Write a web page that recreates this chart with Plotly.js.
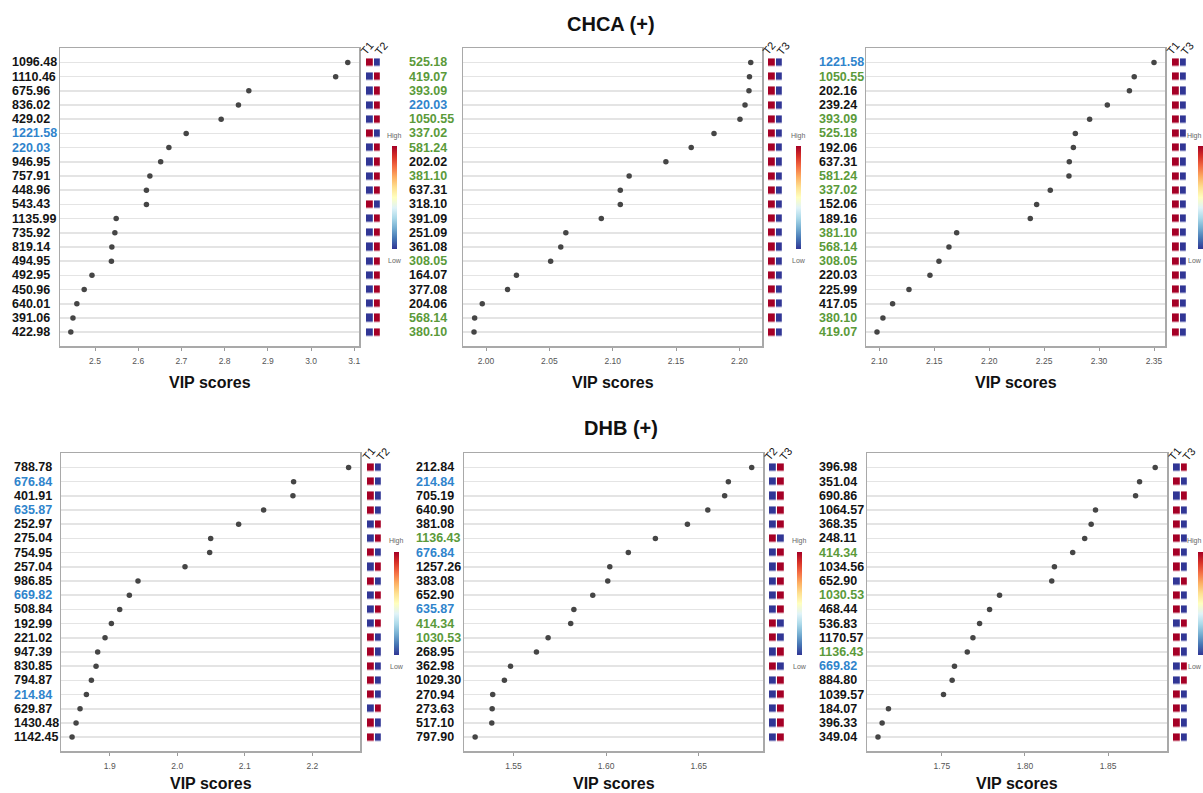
<!DOCTYPE html>
<html>
<head>
<meta charset="utf-8">
<script src="https://cdn.plot.ly/plotly-3.0.1.min.js"></script>
<style>html,body{margin:0;padding:0;background:#fff;}#chart{width:1203px;height:793px;}</style>
</head>
<body>
<div id="chart"></div>
<script>
// ---------- DATA ----------
const groupTitles = ['CHCA (+)', 'DHB (+)'];
const axisTitle = 'VIP scores';

// Panel 1: CHCA (+), T1 vs T2
const p1Labels = ['1096.48','1110.46','675.96','836.02','429.02','1221.58','220.03','946.95','757.91','448.96','543.43','1135.99','735.92','819.14','494.95','492.95','450.96','640.01','391.06','422.98'];
const p1Vip = [3.085,3.057,2.856,2.832,2.792,2.711,2.671,2.652,2.627,2.619,2.619,2.549,2.546,2.539,2.538,2.493,2.475,2.458,2.449,2.444];
const p1Tone = ['k','k','k','k','k','b','b','k','k','k','k','k','k','k','k','k','k','k','k','k'];
const p1Cols = ['T1','T2'];
const p1ColA = [1,0,0,0,0,1,0,0,0,0,1,0,0,0,0,0,0,0,0,0];
const p1ColB = [0,1,1,1,1,0,1,1,1,1,0,1,1,1,1,1,1,1,1,1];

// Panel 2: CHCA (+), T2 vs T3
const p2Labels = ['525.18','419.07','393.09','220.03','1050.55','337.02','581.24','202.02','381.10','637.31','318.10','391.09','251.09','361.08','308.05','164.07','377.08','204.06','568.14','380.10'];
const p2Vip = [2.209,2.208,2.2076,2.2045,2.2005,2.180,2.162,2.142,2.113,2.106,2.106,2.091,2.063,2.059,2.051,2.024,2.017,1.997,1.991,1.9905];
const p2Tone = ['g','g','g','b','g','g','g','k','g','k','k','k','k','k','g','k','k','k','g','g'];
const p2Cols = ['T2','T3'];
const p2ColA = [1,1,1,1,1,1,1,1,1,1,1,1,1,1,1,1,1,1,1,1];
const p2ColB = [0,0,0,0,0,0,0,0,0,0,0,0,0,0,0,0,0,0,0,0];

// Panel 3: CHCA (+), T1 vs T3
const p3Labels = ['1221.58','1050.55','202.16','239.24','393.09','525.18','192.06','637.31','581.24','337.02','152.06','189.16','381.10','568.14','308.05','220.03','225.99','417.05','380.10','419.07'];
const p3Vip = [2.350,2.332,2.3276,2.3075,2.2914,2.2784,2.2766,2.2729,2.2726,2.2556,2.2432,2.2374,2.1704,2.1634,2.1543,2.1461,2.127,2.1121,2.1033,2.0979];
const p3Tone = ['b','g','k','k','g','g','k','k','g','g','k','k','g','g','g','k','k','k','g','g'];
const p3Cols = ['T1','T3'];
const p3ColA = [1,1,1,1,1,1,1,1,1,1,1,1,1,1,1,1,1,1,1,1];
const p3ColB = [0,0,0,0,0,0,0,0,0,0,0,0,0,0,0,0,0,0,0,0];

// Panel 4: DHB (+), T1 vs T2
const p4Labels = ['788.78','676.84','401.91','635.87','252.97','275.04','754.95','257.04','986.85','669.82','508.84','192.99','221.02','947.39','830.85','794.87','214.84','629.87','1430.48','1142.45'];
const p4Vip = [2.2537,2.1723,2.1713,2.1279,2.0909,2.0495,2.048,2.0115,1.9419,1.9291,1.9148,1.9025,1.8931,1.8822,1.8798,1.8729,1.8655,1.8561,1.8502,1.8443];
const p4Tone = ['k','b','k','b','k','k','k','k','k','b','k','k','k','k','k','k','b','k','k','k'];
const p4Cols = ['T1','T2'];
const p4ColA = [1,1,1,1,0,0,1,0,1,0,0,0,1,1,1,1,1,0,1,1];
const p4ColB = [0,0,0,0,1,1,0,1,0,1,1,1,0,0,0,0,0,1,0,0];

// Panel 5: DHB (+), T2 vs T3
const p5Labels = ['212.84','214.84','705.19','640.90','381.08','1136.43','676.84','1257.26','383.08','652.90','635.87','414.34','1030.53','268.95','362.98','1029.30','270.94','273.63','517.10','797.90'];
const p5Vip = [1.6786,1.666,1.664,1.6549,1.6439,1.6266,1.612,1.602,1.6009,1.5928,1.5826,1.5809,1.5687,1.5624,1.5484,1.5451,1.5388,1.5385,1.5383,1.5293];
const p5Tone = ['k','b','k','k','k','g','b','k','k','k','b','g','g','k','k','k','k','k','k','k'];
const p5Cols = ['T2','T3'];
const p5ColA = [0,0,0,0,0,1,0,0,0,0,0,1,1,0,1,0,0,0,0,0];
const p5ColB = [1,1,1,1,1,0,1,1,1,1,1,0,0,1,0,1,1,1,1,1];

// Panel 6: DHB (+), T1 vs T3
const p6Labels = ['396.98','351.04','690.86','1064.57','368.35','248.11','414.34','1034.56','652.90','1030.53','468.44','536.83','1170.57','1136.43','669.82','884.80','1039.57','184.07','396.33','349.04'];
const p6Vip = [1.8783,1.8689,1.8665,1.8424,1.8398,1.8359,1.8287,1.8177,1.8161,1.7847,1.7787,1.7727,1.7687,1.7653,1.7576,1.7562,1.751,1.7179,1.7141,1.7116];
const p6Tone = ['k','k','k','k','k','k','g','k','k','g','k','k','k','g','b','k','k','k','k','k'];
const p6Cols = ['T1','T3'];
const p6ColA = [0,1,0,1,1,1,1,1,0,1,1,0,1,1,0,0,1,1,1,1];
const p6ColB = [1,0,1,0,0,0,0,0,1,0,0,1,0,0,1,1,0,0,0,0];

// ---------- LAYOUT / STYLE ----------
const W = 1203, H = 793;
const toneColor = {k:'#141414', b:'#2f84cc', g:'#5b9a3a'};
const rdylbu = [[0,'#313695'],[0.1,'#4575b4'],[0.2,'#74add1'],[0.3,'#abd9e9'],[0.4,'#e0f3f8'],[0.5,'#ffffbf'],[0.6,'#fee090'],[0.7,'#fdae61'],[0.8,'#f46d43'],[0.9,'#d73027'],[1,'#a50026']];
const FONT = 'Liberation Sans, Arial, Helvetica, sans-serif';

const panels = [
  {labels:p1Labels, vip:p1Vip, tone:p1Tone, cols:p1Cols, a:p1ColA, b:p1ColB, box:[60,359,48,346], lab:10, xr:[2.419,3.111], dt:0.1, fmt:'.1f', cells:[366,381], cb:392, edge:false},
  {labels:p2Labels, vip:p2Vip, tone:p2Tone, cols:p2Cols, a:p2ColA, b:p2ColB, box:[463,762,48,346], lab:407, xr:[1.9818,2.2179], dt:0.05, fmt:'.2f', cells:[768,783], cb:796, edge:false},
  {labels:p3Labels, vip:p3Vip, tone:p3Tone, cols:p3Cols, a:p3ColA, b:p3ColB, box:[866,1165,48,346], lab:817, xr:[2.0879,2.360], dt:0.05, fmt:'.2f', cells:[1172,1187], cb:1198, edge:true},
  {labels:p4Labels, vip:p4Vip, tone:p4Tone, cols:p4Cols, a:p4ColA, b:p4ColB, box:[61,360,453,751], lab:11.5, xr:[1.8279,2.2706], dt:0.1, fmt:'.1f', cells:[367,382], cb:394, edge:false},
  {labels:p5Labels, vip:p5Vip, tone:p5Tone, cols:p5Cols, a:p5ColA, b:p5ColB, box:[464,763,453,751], lab:414, xr:[1.5233,1.6847], dt:0.05, fmt:'.2f', cells:[769,785], cb:797, edge:false},
  {labels:p6Labels, vip:p6Vip, tone:p6Tone, cols:p6Cols, a:p6ColA, b:p6ColB, box:[867,1167,453,751], lab:817, xr:[1.705,1.8854], dt:0.05, fmt:'.2f', cells:[1173,1188], cb:1198, edge:true}
];

const px = v => v / W;
const py = v => 1 - v / H;

const data = [];
const layout = {
  width: W, height: H,
  margin: {l:0, r:0, t:0, b:0},
  paper_bgcolor: '#ffffff', plot_bgcolor: '#ffffff',
  showlegend: false,
  font: {family: FONT, color: '#111'},
  annotations: []
};

panels.forEach((p, i) => {
  const n = i + 1, h = i + 7;
  const xs = n === 1 ? '' : String(n);
  const rows = p.labels.map((_, k) => k);
  const [x0, x1, yTop, yBot] = p.box;
  const ydom = [py(yBot), py(yTop)];
  const yrange = [19.98, -1.02];

  // dots
  data.push({
    type: 'scatter', mode: 'markers',
    x: p.vip, y: rows,
    xaxis: 'x' + xs, yaxis: 'y' + xs,
    marker: {size: 5.5, color: '#454545'},
    hoverinfo: 'x'
  });
  layout['xaxis' + xs] = {
    domain: [px(x0), px(x1)], anchor: 'y' + xs,
    range: p.xr, autorange: false,
    tick0: 0, dtick: p.dt, tickformat: p.fmt,
    ticks: 'outside', ticklen: 3, tickcolor: '#9a9a9a', tickwidth: 1,
    ticklabelstandoff: 3,
    tickfont: {size: 8.5, color: '#555', family: FONT},
    showline: true, mirror: true, linecolor: '#a9a9a9', linewidth: 1.5,
    showgrid: false, zeroline: false, fixedrange: true
  };
  layout['yaxis' + xs] = {
    domain: ydom, anchor: 'x' + xs,
    range: yrange, autorange: false,
    tickvals: rows, showticklabels: false, ticks: '',
    showgrid: true, gridcolor: '#e4e4e4', gridwidth: 1.6,
    showline: true, mirror: true, linecolor: '#a9a9a9', linewidth: 1.5,
    zeroline: false, fixedrange: true
  };

  // row labels
  p.labels.forEach((lab, k) => {
    layout.annotations.push({
      xref: 'paper', yref: 'y' + xs, x: px(p.lab), y: k,
      xanchor: 'left', yanchor: 'middle', showarrow: false,
      text: '<b>' + lab + '</b>',
      font: {size: 12.5, color: toneColor[p.tone[k]], family: FONT}
    });
  });

  // x-axis title
  layout.annotations.push({
    xref: 'paper', yref: 'paper', x: px((x0 + x1) / 2), y: py(yBot + (n > 3 ? 32 : 36)),
    xanchor: 'center', yanchor: 'middle', showarrow: false,
    text: '<b>' + axisTitle + '</b>', font: {size: 16, color: '#111', family: FONT}
  });

  // heatmap cells
  const cy = (yTop + yBot) / 2 + 1;
  data.push({
    type: 'heatmap',
    x: [0, 1], y: rows,
    z: rows.map(k => [p.a[k], p.b[k]]),
    xaxis: 'x' + h, yaxis: 'y' + h,
    zmin: 0, zmax: 1, colorscale: rdylbu,
    xgap: 1.2, ygap: 6.6,
    hoverinfo: 'z',
    showscale: true,
    colorbar: {
      x: px(p.cb), xanchor: 'left', xpad: 0, ypad: 0,
      y: py(cy), yanchor: 'middle',
      len: 103, lenmode: 'pixels',
      thickness: 5, thicknessmode: 'pixels',
      outlinewidth: 0, ticks: '', showticklabels: false
    }
  });
  layout['xaxis' + h] = {
    domain: [px(p.cells[0]), px(p.cells[1])], anchor: 'y' + h,
    range: [-0.5, 1.5], autorange: false,
    showticklabels: false, ticks: '',
    showline: false, showgrid: false, zeroline: false, fixedrange: true
  };
  layout['yaxis' + h] = {
    domain: ydom, anchor: 'x' + h,
    range: yrange, autorange: false,
    visible: false, fixedrange: true
  };

  // rotated column labels above the cells
  p.cols.forEach((c, ci) => {
    layout.annotations.push({
      xref: 'x' + h, yref: 'paper', x: ci, y: py(yTop + 0.5),
      xanchor: 'center', yanchor: 'middle', showarrow: false,
      xshift: ci === 0 ? -2.5 : 4.5,
      textangle: -50, text: c,
      font: {size: 11, color: '#111', family: FONT}
    });
  });

  // High / Low labels of the colour key
  const keyAnchor = p.edge ? 'right' : 'center';
  const keyX = p.edge ? W : p.cb + 2.5;
  layout.annotations.push({
    xref: 'paper', yref: 'paper', x: px(keyX), y: py(cy - 62),
    xanchor: keyAnchor, yanchor: 'middle', showarrow: false, borderpad: 0,
    text: 'High', font: {size: 7, color: '#666', family: FONT}
  });
  layout.annotations.push({
    xref: 'paper', yref: 'paper', x: px(keyX), y: py(cy + 63),
    xanchor: keyAnchor, yanchor: 'middle', showarrow: false, borderpad: 0,
    text: 'Low', font: {size: 7, color: '#666', family: FONT}
  });
});

// group titles
layout.annotations.push({
  xref: 'paper', yref: 'paper', x: px(611), y: py(24),
  xanchor: 'center', yanchor: 'middle', showarrow: false,
  text: '<b>' + groupTitles[0] + '</b>', font: {size: 20, color: '#111', family: FONT}
});
layout.annotations.push({
  xref: 'paper', yref: 'paper', x: px(621), y: py(428),
  xanchor: 'center', yanchor: 'middle', showarrow: false,
  text: '<b>' + groupTitles[1] + '</b>', font: {size: 20, color: '#111', family: FONT}
});

Plotly.newPlot('chart', data, layout, {displayModeBar: false, staticPlot: true});
</script>
</body>
</html>
